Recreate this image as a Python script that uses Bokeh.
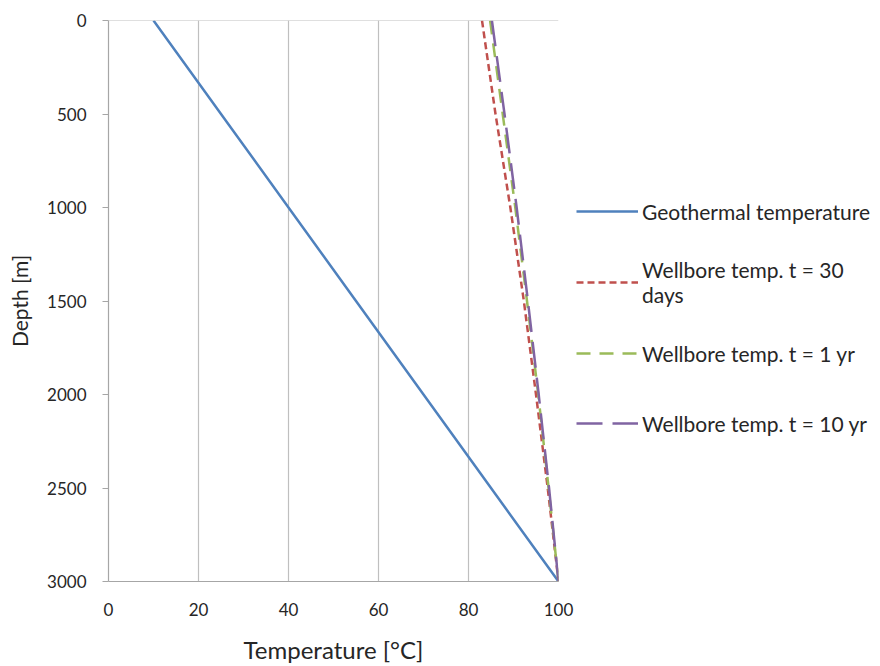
from bokeh.plotting import figure
from bokeh.models import Range1d, FixedTicker, Legend, LegendItem, Span
from bokeh.embed import file_html
from bokeh.resources import INLINE

depth = [0, 500, 1000, 1500, 2000, 2500, 3000]
geothermal = [10, 25, 40, 55, 70, 85, 100]
well_30d = [83.0, 86.0, 89.3, 92.3, 95.0, 97.6, 100.0]
well_1yr = [84.8, 87.6, 90.4, 93.0, 95.5, 97.8, 100.0]
well_10yr = [85.2, 88.0, 90.7, 93.2, 95.6, 97.9, 100.0]
x_ticks = [0, 20, 40, 60, 80, 100]
y_ticks = [0, 500, 1000, 1500, 2000, 2500, 3000]

FONT = "Lato"
p = figure(frame_width=450, frame_height=561, output_backend="svg", toolbar_location=None,
           x_range=Range1d(0, 100), y_range=Range1d(3000, 0),
           min_border_left=108, min_border_top=20, min_border_right=0,
           min_border_bottom=82)
p.outline_line_color = None
p.background_fill_color = "white"

grid_col = "#BFBFBF"
p.xgrid.ticker = FixedTicker(ticks=x_ticks)
p.xgrid.grid_line_color = grid_col
p.xgrid.grid_line_width = 1.2
p.ygrid.grid_line_color = None
p.add_layout(Span(location=0, dimension="width", line_color=grid_col, line_width=1.2))

for ax in (p.xaxis[0], p.yaxis[0]):
    ax.axis_line_color = "#A6A6A6"
    ax.axis_line_width = 1.2
    ax.minor_tick_line_color = None
    ax.major_label_text_font = FONT
    ax.major_label_text_font_size = "17px"
    ax.major_label_text_color = "#262626"
    ax.axis_label_text_font = FONT
    ax.axis_label_text_font_style = "normal"
    ax.axis_label_text_color = "#262626"

p.xaxis.ticker = FixedTicker(ticks=x_ticks)
p.xaxis.major_tick_line_color = None
p.xaxis.major_label_standoff = 15
p.xaxis.axis_label = "Temperature [°C]"
p.xaxis.axis_label_text_font_size = "24px"
p.xaxis.axis_label_standoff = 16

p.yaxis.ticker = FixedTicker(ticks=y_ticks)
p.yaxis.major_tick_line_color = "#A6A6A6"
p.yaxis.major_tick_out = 6
p.yaxis.major_tick_in = 0
p.yaxis.major_label_standoff = 16
p.yaxis.axis_label = "Depth [m]"
p.yaxis.axis_label_text_font_size = "21px"
p.yaxis.axis_label_standoff = 12

r_geo = p.line(geothermal, depth, line_color="#4F81BD", line_width=2.5)
r_30 = p.line(well_30d, depth, line_color="#C0504D", line_width=2.5, line_dash="7 4")
r_1 = p.line(well_1yr, depth, line_color="#9BBB59", line_width=2.5, line_dash="14 9")
r_10 = p.line(well_10yr, depth, line_color="#8064A2", line_width=2.5, line_dash="26 10")

legend = Legend(items=[
    LegendItem(label="Geothermal temperature", renderers=[r_geo]),
    LegendItem(label="Wellbore temp. t = 30\ndays", renderers=[r_30]),
    LegendItem(label="Wellbore temp. t = 1 yr", renderers=[r_1]),
    LegendItem(label="Wellbore temp. t = 10 yr", renderers=[r_10]),
], location=(18, 134), glyph_width=62, glyph_height=20, label_height=48,
    label_text_font=FONT,
    label_text_font_size="21px", label_text_color="#262626",
    spacing=22, padding=0, margin=0, border_line_color=None,
    background_fill_alpha=0, label_standoff=4)
p.add_layout(legend, "right")

open("out.html", "w").write(file_html(p, INLINE))
